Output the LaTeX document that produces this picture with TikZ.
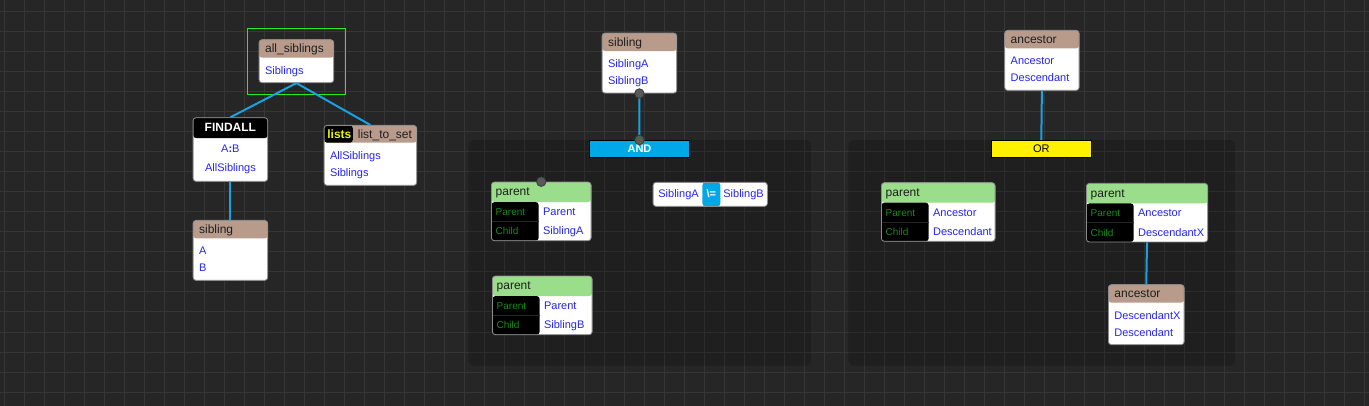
\documentclass[tikz,border=0pt]{standalone}
\usepackage{fontspec}
\setmainfont{Liberation Sans}
\usetikzlibrary{fit}

\definecolor{canvas}{HTML}{262626}
\definecolor{gridcol}{HTML}{363636}
\definecolor{hdbrown}{HTML}{B99B8B}
\definecolor{hdgreen}{HTML}{9ADD8A}
\definecolor{bodyblue}{HTML}{2525F0}
\definecolor{kidgreen}{HTML}{1A8A1A}
\definecolor{wirecol}{HTML}{1BA0E0}
\definecolor{andcyan}{HTML}{00A8E8}
\definecolor{recline}{HTML}{8C8C8C}
\definecolor{hdtext}{HTML}{1E1E1E}
\definecolor{selgreen}{HTML}{22EE22}
\definecolor{listyellow}{HTML}{F2F200}
\definecolor{portgrey}{HTML}{595959}
\definecolor{portedge}{HTML}{3C3C3C}

\newcommand\bodyfont{\fontsize{11}{13}\selectfont\offinterlineskip}
\newcommand\rs[2]{\rule[-#2]{0pt}{\dimexpr#1+#2\relax}}
\newcommand\recname[1]{\rs{13.3pt}{8.7pt}{\color{hdtext}\fontsize{12}{14}\selectfont #1}}
\newcommand\bodyrow[1]{\rs{12.5pt}{4.5pt}#1}
\newcommand\lastrow[1]{\rs{12.5pt}{8.5pt}#1}
\newcommand\predname[1]{\rs{13.9pt}{6.1pt}{\color{hdtext}\fontsize{12}{14}\selectfont #1}}
\newcommand\predrow[2]{\rs{13.6pt}{5.7pt}\makebox[47.4pt][l]{\color{kidgreen}\fontsize{10}{12}\selectfont #1}#2}

\begin{document}
\begin{tikzpicture}[
  x=1pt, y=-1pt,
  gridln/.style={draw=gridcol, line width=1pt},
  grp/.style={fill=black, fill opacity=0.18, rounded corners=6pt},
  rec/.style={draw=recline, line width=.8pt, fill=white, rounded corners=3pt, anchor=north west,
    inner xsep=6pt, inner ysep=0pt, align=left, text=bodyblue, font=\bodyfont},
  head/.style 2 args={path picture={\fill[#1] (path picture bounding box.north west)
    rectangle ([yshift=-#2]path picture bounding box.north east);}},
  pred/.style={rec, inner xsep=4.3pt, path picture={
    \fill[hdgreen] (path picture bounding box.north west) rectangle ([yshift=-20pt]path picture bounding box.north east);
    \fill[black] ([yshift=-20pt]path picture bounding box.north west) rectangle ([xshift=47.3pt]path picture bounding box.south west);
    \draw[draw=black!85!white, line width=.6pt] ([yshift=-39.3pt]path picture bounding box.north west) -- ++(47.3pt,0pt);}},
  neq/.style={draw=recline, line width=.8pt, fill=white, rounded corners=3pt, anchor=north west, inner sep=0pt,
    minimum height=24pt, text=bodyblue, font=\bodyfont, path picture={
    \fill[andcyan] ([xshift=49.3pt]path picture bounding box.south west) rectangle ([xshift=67.3pt]path picture bounding box.north west);}},
  bar/.style={draw=black, line width=1pt, minimum width=100pt, minimum height=17pt, inner sep=0pt},
  port/.style={circle, fill=portgrey, draw=portedge, line width=.8pt, minimum size=9.5pt, inner sep=0pt},
  wire/.style={draw=wirecol, line width=2pt},
  selbox/.style={draw=selgreen, line width=1pt, inner sep=11pt}
]
\useasboundingbox (0,0) rectangle (1369,406);
\fill[canvas] (0,0) rectangle (1369,406);
\foreach \gx in {4,24,...,1364} \draw[gridln] (\gx,0) -- (\gx,406);
\foreach \gy in {12,32,...,392} \draw[gridln] (0,\gy) -- (1369,\gy);

% groups
\path[grp] (468.3,140) rectangle (811,365.7);
\path[grp] (848.3,140) rectangle (1235,365.7);

% all_siblings
\node[rec, head={hdbrown}{18pt}, text width=62.6pt] (allsib) at (258.7,39.3)
  {\recname{all\_siblings}\\\lastrow{Siblings}};
\node[selbox, fit=(allsib)] (allsibsel) {};
\node[rec, head={black}{20.4pt}, align=center, text width=62.6pt] (findall) at (192.7,117.3)
  {\rs{14.3pt}{6.7pt}{\color{white}\fontsize{12}{14}\selectfont\bfseries FINDALL}\\
   \rs{13.7pt}{5.8pt}A\textbf{:}B\\\rs{13.7pt}{9.5pt}AllSiblings};
\node[rec, head={hdbrown}{18pt}, text width=62.6pt] (sib1) at (192.7,220)
  {\recname{sibling}\\\bodyrow{A}\\\lastrow{B}};
\node[rec, text width=80.6pt, path picture={
    \fill[hdbrown] (path picture bounding box.north west) rectangle ([yshift=-17.3pt]path picture bounding box.north east);
    \fill[black] (path picture bounding box.north west) rectangle ([xshift=28.7pt,yshift=-17.3pt]path picture bounding box.north west);}]
  (lts) at (323.7,125)
  {\rs{13.3pt}{8.7pt}\makebox[0pt][l]{\hspace*{-2.7pt}{\fontsize{12}{14}\selectfont\bfseries\color{listyellow}lists}\hspace{6.5pt}{\color{hdtext}\fontsize{12}{14}\selectfont list\_to\_set}}\\
   \bodyrow{AllSiblings}\\\lastrow{Siblings}};

% sibling
\node[rec, head={hdbrown}{18pt}, text width=62.6pt] (sib2) at (601.7,32.7)
  {\recname{sibling}\\\bodyrow{SiblingA}\\\lastrow{SiblingB}};
\node[bar, fill=andcyan, text=white, font=\fontsize{11}{13}\selectfont\bfseries] (andbar) at (639.5,149) {AND};
\node[pred, text width=91.1pt] (par1) at (491,181.7)
  {\predname{parent}\\\predrow{Parent}{Parent}\\\predrow{Child}{SiblingA}};
\node[pred, text width=91.1pt] (par2) at (492,275.7)
  {\predname{parent}\\\predrow{Parent}{Parent}\\\predrow{Child}{SiblingB}};
\node[neq] (diff) at (652.7,182)
  {\makebox[49.3pt][l]{\hspace{5.3pt}SiblingA}\makebox[18pt]{\color{white}\textbf{\textbackslash=}}\makebox[47pt][l]{\hspace{3pt}SiblingB}};

% ancestor
\node[rec, head={hdbrown}{18pt}, text width=62.4pt] (anc1) at (1004.3,30)
  {\recname{ancestor}\\\bodyrow{Ancestor}\\\lastrow{Descendant}};
\node[bar, fill=yellow, font=\fontsize{11}{13}\selectfont] (orbar) at (1041.3,148.8) {OR};
\node[pred, text width=105.1pt] (parL) at (881,182.3)
  {\predname{parent}\\\predrow{Parent}{Ancestor}\\\predrow{Child}{Descendant}};
\node[pred, text width=112.7pt] (parR) at (1086,183)
  {\predname{parent}\\\predrow{Parent}{Ancestor}\\\predrow{Child}{DescendantX}};
\node[rec, head={hdbrown}{18pt}, text width=63.7pt] (anc2) at (1108,284.3)
  {\recname{ancestor}\\\bodyrow{DescendantX}\\\lastrow{Descendant}};

% wires
\draw[wire] (allsib.south) -- (findall.north);
\draw[wire] (allsib.south) -- (lts.north);
\draw[wire] (findall.south) -- (sib1.north);
\draw[wire] (sib2.south) -- (andbar.north);
\draw[wire] (anc1.south) -- (orbar.north);
\draw[wire] (parR.south) -- (anc2.north);

% ports
\node[port] (sib2port) at (sib2.south) {};
\node[port] (andport) at (andbar.north) {};
\node[port] (par1port) at (par1.north) {};
\end{tikzpicture}
\end{document}
